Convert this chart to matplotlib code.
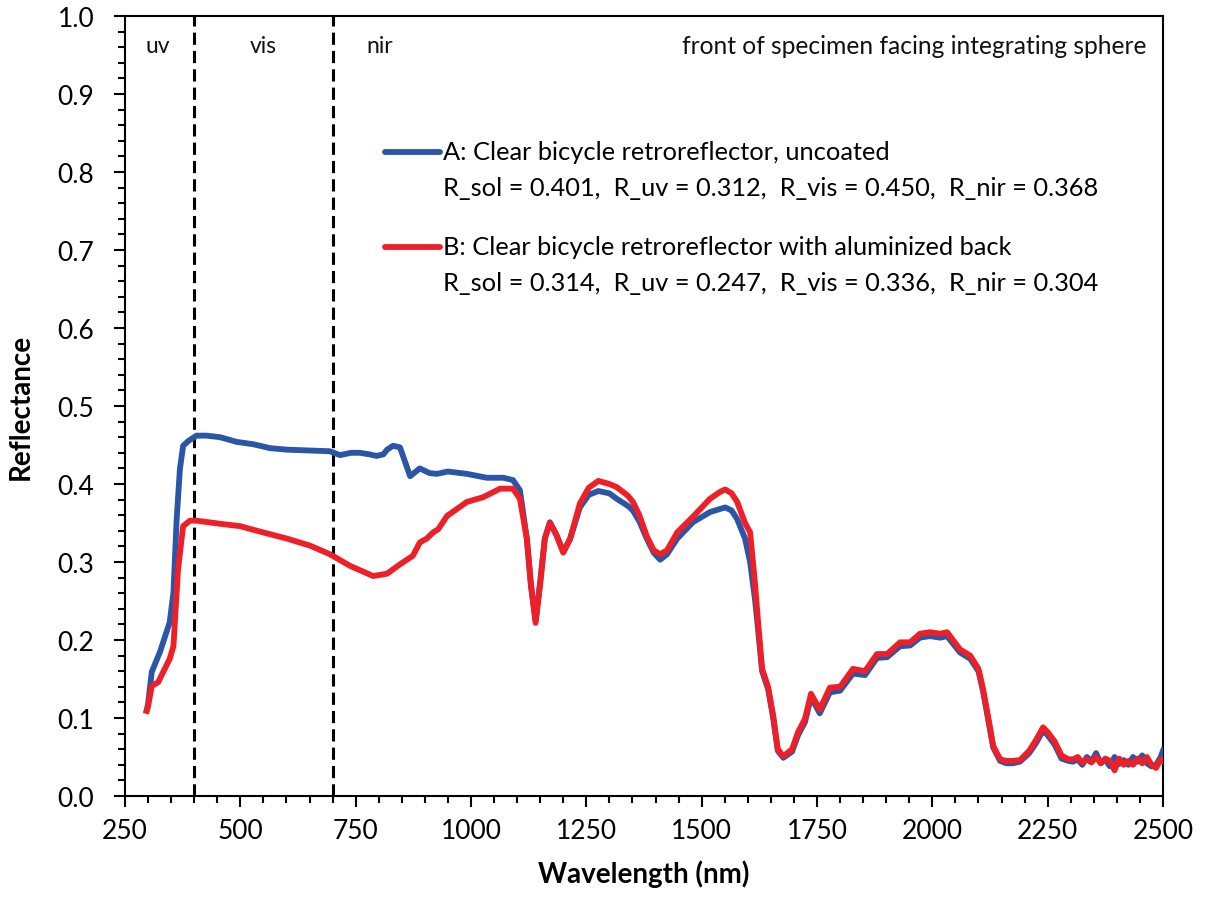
import matplotlib
matplotlib.use("Agg")
import matplotlib.pyplot as plt
from matplotlib.ticker import MultipleLocator, FormatStrFormatter

plt.rcParams['font.family'] = ['Lato', 'DejaVu Sans']

# ---------------- data ----------------
wl_a = [297, 300, 308, 326, 347, 355, 362, 369, 376, 387, 405, 427, 456, 492, 528, 564, 601, 651, 694, 716,
        740, 759, 780, 795, 810, 818, 831, 846, 856, 868, 889, 910, 926, 950, 991, 1034, 1070, 1091, 1106, 1121,
        1130, 1140, 1150, 1160, 1171, 1185, 1200, 1215, 1236, 1255, 1276, 1300, 1316, 1340, 1351, 1365, 1381,
        1396, 1410, 1425, 1447, 1481, 1518, 1540, 1551, 1565, 1577, 1594, 1605, 1616, 1622, 1631, 1644, 1655,
        1665, 1677, 1696, 1709, 1724, 1737, 1756, 1778, 1800, 1828, 1854, 1880, 1902, 1930, 1952, 1973, 1995,
        2017, 2032, 2060, 2082, 2100, 2110, 2122, 2132, 2147, 2160, 2175, 2190, 2210, 2225, 2240, 2250, 2265,
        2280, 2295, 2305, 2315, 2325, 2335, 2345, 2355, 2365, 2375, 2385, 2395, 2405, 2415, 2425, 2435, 2445,
        2455, 2465, 2475, 2485, 2495, 2500]
refl_a = [0.110, 0.118, 0.159, 0.185, 0.223, 0.261, 0.355, 0.419, 0.449, 0.455, 0.462, 0.462, 0.460, 0.454,
          0.451, 0.446, 0.444, 0.443, 0.442, 0.437, 0.440, 0.440, 0.438, 0.436, 0.438, 0.444, 0.449, 0.447, 0.430,
          0.410, 0.420, 0.414, 0.413, 0.416, 0.413, 0.408, 0.408, 0.405, 0.392, 0.330, 0.270, 0.225, 0.275, 0.330,
          0.351, 0.335, 0.313, 0.330, 0.370, 0.386, 0.391, 0.388, 0.381, 0.372, 0.366, 0.352, 0.330, 0.312, 0.303,
          0.310, 0.330, 0.351, 0.364, 0.368, 0.370, 0.366, 0.355, 0.330, 0.300, 0.250, 0.215, 0.160, 0.137, 0.100,
          0.058, 0.049, 0.057, 0.078, 0.095, 0.127, 0.106, 0.133, 0.135, 0.157, 0.155, 0.177, 0.178, 0.192, 0.193,
          0.203, 0.205, 0.203, 0.205, 0.184, 0.176, 0.160, 0.134, 0.095, 0.062, 0.045, 0.042, 0.042, 0.044, 0.055,
          0.068, 0.084, 0.078, 0.066, 0.048, 0.045, 0.044, 0.047, 0.040, 0.050, 0.044, 0.055, 0.042, 0.047, 0.038,
          0.050, 0.041, 0.046, 0.040, 0.050, 0.044, 0.052, 0.042, 0.038, 0.040, 0.050, 0.058]

wl_b = [297, 300, 308, 322, 347, 355, 365, 376, 391, 405, 456, 499, 549, 601, 651, 694, 738, 788, 818, 846,
        874, 889, 904, 918, 929, 948, 991, 1026, 1063, 1091, 1106, 1121, 1130, 1140, 1150, 1160, 1171, 1185,
        1200, 1215, 1236, 1255, 1276, 1300, 1316, 1340, 1351, 1365, 1381, 1396, 1410, 1425, 1447, 1481, 1518,
        1540, 1551, 1565, 1577, 1594, 1605, 1616, 1622, 1631, 1644, 1655, 1665, 1677, 1696, 1709, 1724, 1737,
        1756, 1778, 1800, 1828, 1854, 1880, 1902, 1930, 1952, 1973, 1995, 2017, 2032, 2060, 2082, 2100, 2110,
        2122, 2132, 2147, 2160, 2175, 2190, 2210, 2225, 2240, 2250, 2265, 2280, 2295, 2305, 2315, 2325, 2335,
        2345, 2355, 2365, 2375, 2385, 2395, 2405, 2415, 2425, 2435, 2445, 2455, 2465, 2475, 2485, 2495, 2500]
refl_b = [0.109, 0.115, 0.141, 0.146, 0.176, 0.192, 0.291, 0.346, 0.353, 0.353, 0.349, 0.346, 0.338, 0.330,
          0.321, 0.310, 0.295, 0.282, 0.285, 0.297, 0.308, 0.325, 0.330, 0.338, 0.342, 0.359, 0.377, 0.383, 0.394,
          0.394, 0.381, 0.330, 0.270, 0.222, 0.272, 0.330, 0.350, 0.335, 0.312, 0.330, 0.375, 0.395, 0.404, 0.400,
          0.396, 0.385, 0.377, 0.360, 0.333, 0.315, 0.310, 0.315, 0.338, 0.358, 0.381, 0.390, 0.393, 0.388, 0.377,
          0.350, 0.338, 0.270, 0.225, 0.163, 0.140, 0.103, 0.060, 0.051, 0.060, 0.082, 0.099, 0.131, 0.111, 0.139,
          0.140, 0.163, 0.160, 0.182, 0.182, 0.197, 0.197, 0.208, 0.210, 0.208, 0.210, 0.188, 0.180, 0.163, 0.137,
          0.098, 0.064, 0.047, 0.045, 0.045, 0.046, 0.058, 0.072, 0.088, 0.082, 0.070, 0.052, 0.047, 0.047, 0.050,
          0.043, 0.047, 0.043, 0.050, 0.042, 0.048, 0.045, 0.033, 0.048, 0.040, 0.045, 0.040, 0.048, 0.042, 0.050,
          0.040, 0.036, 0.047, 0.045]

band_edges = [400, 700]
band_names = ["uv", "vis", "nir"]
band_label_x = [320, 550, 803]

label_a = "A: Clear bicycle retroreflector, uncoated"
stats_a = "R_sol = 0.401,  R_uv = 0.312,  R_vis = 0.450,  R_nir = 0.368"
label_b = "B: Clear bicycle retroreflector with aluminized back"
stats_b = "R_sol = 0.314,  R_uv = 0.247,  R_vis = 0.336,  R_nir = 0.304"
note = "front of specimen facing integrating sphere"

color_a = "#2B55A6"
color_b = "#EE1F26"

# ---------------- figure ----------------
fig = plt.figure(figsize=(12.06, 9.03), dpi=100)
ax = fig.add_axes([125 / 1206, 106 / 903, 1038 / 1206, 780 / 903])

ax.plot(wl_a, refl_a, color=color_a, lw=4.2, solid_joinstyle='round', zorder=3)
ax.plot(wl_b, refl_b, color=color_b, lw=4.2, solid_joinstyle='round', zorder=4)

for e in band_edges:
    ax.axvline(e, color='black', lw=2.2, ls=(0, (4, 2)), zorder=2)

for name, x in zip(band_names, band_label_x):
    ax.text(x, 0.962, name, ha='center', va='center', fontsize=16.5, color='#111111')
ax.text(0.984, 0.962, note, transform=ax.transAxes, ha='right', va='center', fontsize=17.7, color='#111111')

ax.set_xlim(250, 2500)
ax.set_ylim(0, 1.0)
ax.xaxis.set_major_locator(MultipleLocator(250))
ax.xaxis.set_minor_locator(MultipleLocator(50))
ax.yaxis.set_major_locator(MultipleLocator(0.1))
ax.yaxis.set_minor_locator(MultipleLocator(0.02))
ax.yaxis.set_major_formatter(FormatStrFormatter('%.1f'))
ax.tick_params(which='major', direction='out', length=8, width=1.5, labelsize=19)
ax.tick_params(axis='y', which='major', pad=14)
ax.tick_params(axis='x', which='major', pad=8)
ax.tick_params(which='minor', direction='out', length=5, width=1.5)
for sp in ax.spines.values():
    sp.set_linewidth(1.5)

ax.set_xlabel("Wavelength (nm)", fontsize=20, fontweight='bold', labelpad=12)
ax.set_ylabel("Reflectance", fontsize=20, fontweight='bold', labelpad=17)

# legend (manual, drawn in axes fraction)
def legend_entry(y_frac, color, l1, l2):
    x0, x1 = (385 - 125) / 1038, (440 - 125) / 1038
    ax.plot([x0, x1], [y_frac, y_frac], color=color, lw=4.2, transform=ax.transAxes,
            solid_capstyle='round', clip_on=False, zorder=5)
    ax.text((443 - 125) / 1038, y_frac, l1, transform=ax.transAxes, ha='left', va='center', fontsize=18.3)
    ax.text((443 - 125) / 1038, y_frac - 36 / 780, l2, transform=ax.transAxes, ha='left', va='center', fontsize=18.3)

legend_entry((797 - 153) / 780, color_a, label_a, stats_a)
legend_entry((797 - 248) / 780, color_b, label_b, stats_b)

fig.savefig("out.png", dpi=100)
